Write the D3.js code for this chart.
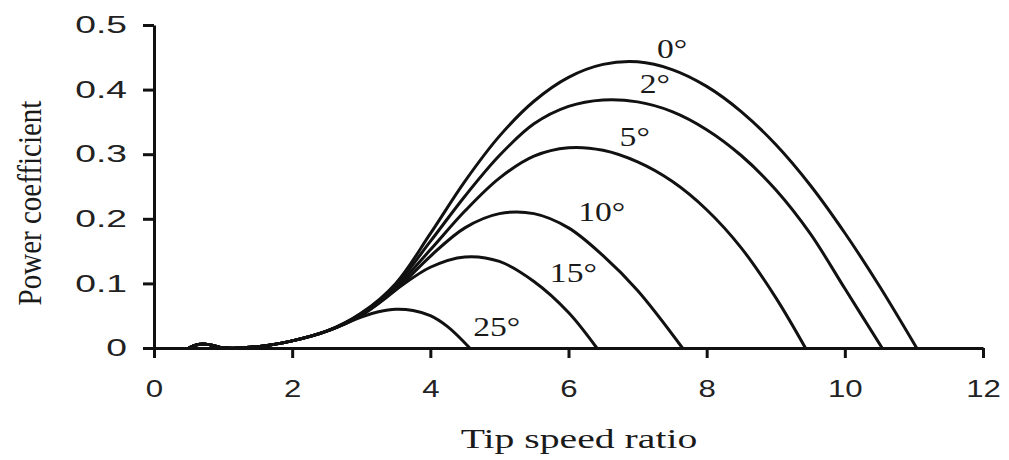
<!DOCTYPE html>
<html>
<head>
<meta charset="utf-8">
<script src="https://cdn.jsdelivr.net/npm/d3@7"></script>
<style>
  html, body { margin: 0; padding: 0; background: #fff; }
  svg { display: block; }
</style>
</head>
<body>
<div id="chart"></div>
<script>
// tick values and their printed labels
const xTicks = [0, 2, 4, 6, 8, 10, 12];
const yTicks = [0, 0.1, 0.2, 0.3, 0.4, 0.5];
const yTickLabels = ["0", "0.1", "0.2", "0.3", "0.4", "0.5"];

// pitch angle of each curve
const pitchLabels = ["0°", "2°", "5°", "10°", "15°", "25°"];

// shared start of every curve (tip speed ratio, power coefficient)
const startPart = [[0.5, 0], [0.62, 0.005], [0.75, 0.006], [0.88, 0.003], [1.0, 0.0003],
  [1.5, 0.002], [2.0, 0.011], [2.5, 0.026]];

// rest of each curve
const cp0 = [[3.0, 0.054], [3.5, 0.1], [4.0, 0.177], [4.5, 0.258], [5.0, 0.328], [5.5, 0.382],
  [6.0, 0.419], [6.5, 0.439], [7.0, 0.443], [7.5, 0.431], [8.0, 0.405], [8.5, 0.366], [9.0, 0.315],
  [9.5, 0.252], [10.0, 0.178], [10.5, 0.096], [11.04, 0]];
const cp2 = [[3.0, 0.053], [3.5, 0.097], [4.0, 0.165], [4.5, 0.235], [5.0, 0.298], [5.5, 0.347],
  [6.0, 0.374], [6.5, 0.384], [7.0, 0.381], [7.5, 0.366], [8.0, 0.338], [8.5, 0.298], [9.0, 0.245],
  [9.5, 0.177], [10.0, 0.092], [10.54, 0]];
const cp5 = [[3.0, 0.052], [3.5, 0.094], [4.0, 0.152], [4.5, 0.212], [5.0, 0.263], [5.5, 0.297],
  [6.0, 0.31], [6.5, 0.306], [7.0, 0.288], [7.5, 0.258], [8.0, 0.214], [8.5, 0.155], [9.0, 0.078],
  [9.43, 0]];
const cp10 = [[3.0, 0.051], [3.5, 0.09], [4.0, 0.142], [4.5, 0.186], [5.0, 0.208], [5.5, 0.208],
  [6.0, 0.186], [6.5, 0.143], [7.0, 0.089], [7.65, 0]];
const cp15 = [[3.0, 0.05], [3.5, 0.09], [4.0, 0.125], [4.5, 0.141], [5.0, 0.134], [5.5, 0.103],
  [6.0, 0.055], [6.41, 0]];
const cp25 = [[3.0, 0.048], [3.25, 0.056], [3.5, 0.06], [3.75, 0.058], [4.0, 0.05], [4.25, 0.033],
  [4.57, 0]];

// where the angle labels sit (tip speed ratio, power coefficient of the baseline)
const labelPos = [[7.28, 0.449], [7.03, 0.395], [6.74, 0.313], [6.14, 0.197], [5.73, 0.102], [4.62, 0.019]];

const curves = [cp0, cp2, cp5, cp10, cp15, cp25].map(c => startPart.concat(c));

const width = 1009, height = 460;

const svg = d3.select("#chart").append("svg")
  .attr("width", width)
  .attr("height", height);

const x = d3.scaleLinear().domain([0, 12]).range([154, 983]);
const y = d3.scaleLinear().domain([0, 0.5]).range([348, 25]);

// stretch text sideways, the picture is wider than it is tall
function stretchText(sel, sx) {
  sel.each(function() {
    const t = d3.select(this);
    const tx = +t.attr("x") || 0;
    const ty = +t.attr("y") || 0;
    t.attr("x", 0).attr("y", 0)
      .attr("transform", `translate(${tx},${ty}) scale(${sx},1)`);
  });
}

// curves
const line = d3.line()
  .x(d => x(d[0]))
  .y(d => y(d[1]))
  .curve(d3.curveCatmullRom.alpha(0.5));

svg.append("g")
  .selectAll("path")
  .data(curves)
  .join("path")
    .attr("d", line)
    .attr("fill", "none")
    .attr("stroke", "#111")
    .attr("stroke-width", 3)
    .attr("stroke-linejoin", "round");

// x axis
const gx = svg.append("g")
  .attr("transform", `translate(0,${y(0)})`)
  .call(d3.axisBottom(x).tickValues(xTicks).tickFormat(d3.format("d")).tickSize(10).tickSizeOuter(0).tickPadding(22));

// y axis
const gy = svg.append("g")
  .attr("transform", `translate(${x(0)},0)`)
  .call(d3.axisLeft(y).tickValues(yTicks).tickFormat((d, i) => yTickLabels[i]).tickSize(11).tickSizeOuter(0).tickPadding(16));

[gx, gy].forEach(g => {
  g.select(".domain").attr("stroke", "#111").attr("stroke-width", 3);
  g.selectAll(".tick line").attr("stroke", "#111").attr("stroke-width", 3);
  g.selectAll(".tick text")
    .attr("fill", "#222")
    .style("font-family", "'Liberation Sans', Arial, sans-serif")
    .style("font-size", "24px");
});

stretchText(gx.selectAll(".tick text"), 1.3);
stretchText(gy.selectAll(".tick text"), 1.55);

// angle labels
svg.append("g")
  .selectAll("text")
  .data(pitchLabels)
  .join("text")
    .attr("x", (d, i) => x(labelPos[i][0]))
    .attr("y", (d, i) => y(labelPos[i][1]))
    .attr("fill", "#1a1a1a")
    .style("font-family", "'Liberation Serif', 'Times New Roman', serif")
    .style("font-size", "28px")
    .text(d => d)
    .call(stretchText, 1.2);

// axis titles
svg.append("text")
  .attr("x", 579)
  .attr("y", 448)
  .attr("text-anchor", "middle")
  .attr("fill", "#1a1a1a")
  .style("font-family", "'Liberation Serif', 'Times New Roman', serif")
  .style("font-size", "27px")
  .text("Tip speed ratio")
  .call(stretchText, 1.47);

svg.append("text")
  .attr("text-anchor", "middle")
  .attr("transform", "translate(41,203) scale(1.13,1) rotate(-90)")
  .attr("fill", "#1a1a1a")
  .style("font-family", "'Liberation Serif', 'Times New Roman', serif")
  .style("font-size", "29px")
  .text("Power coefficient");
</script>
</body>
</html>
